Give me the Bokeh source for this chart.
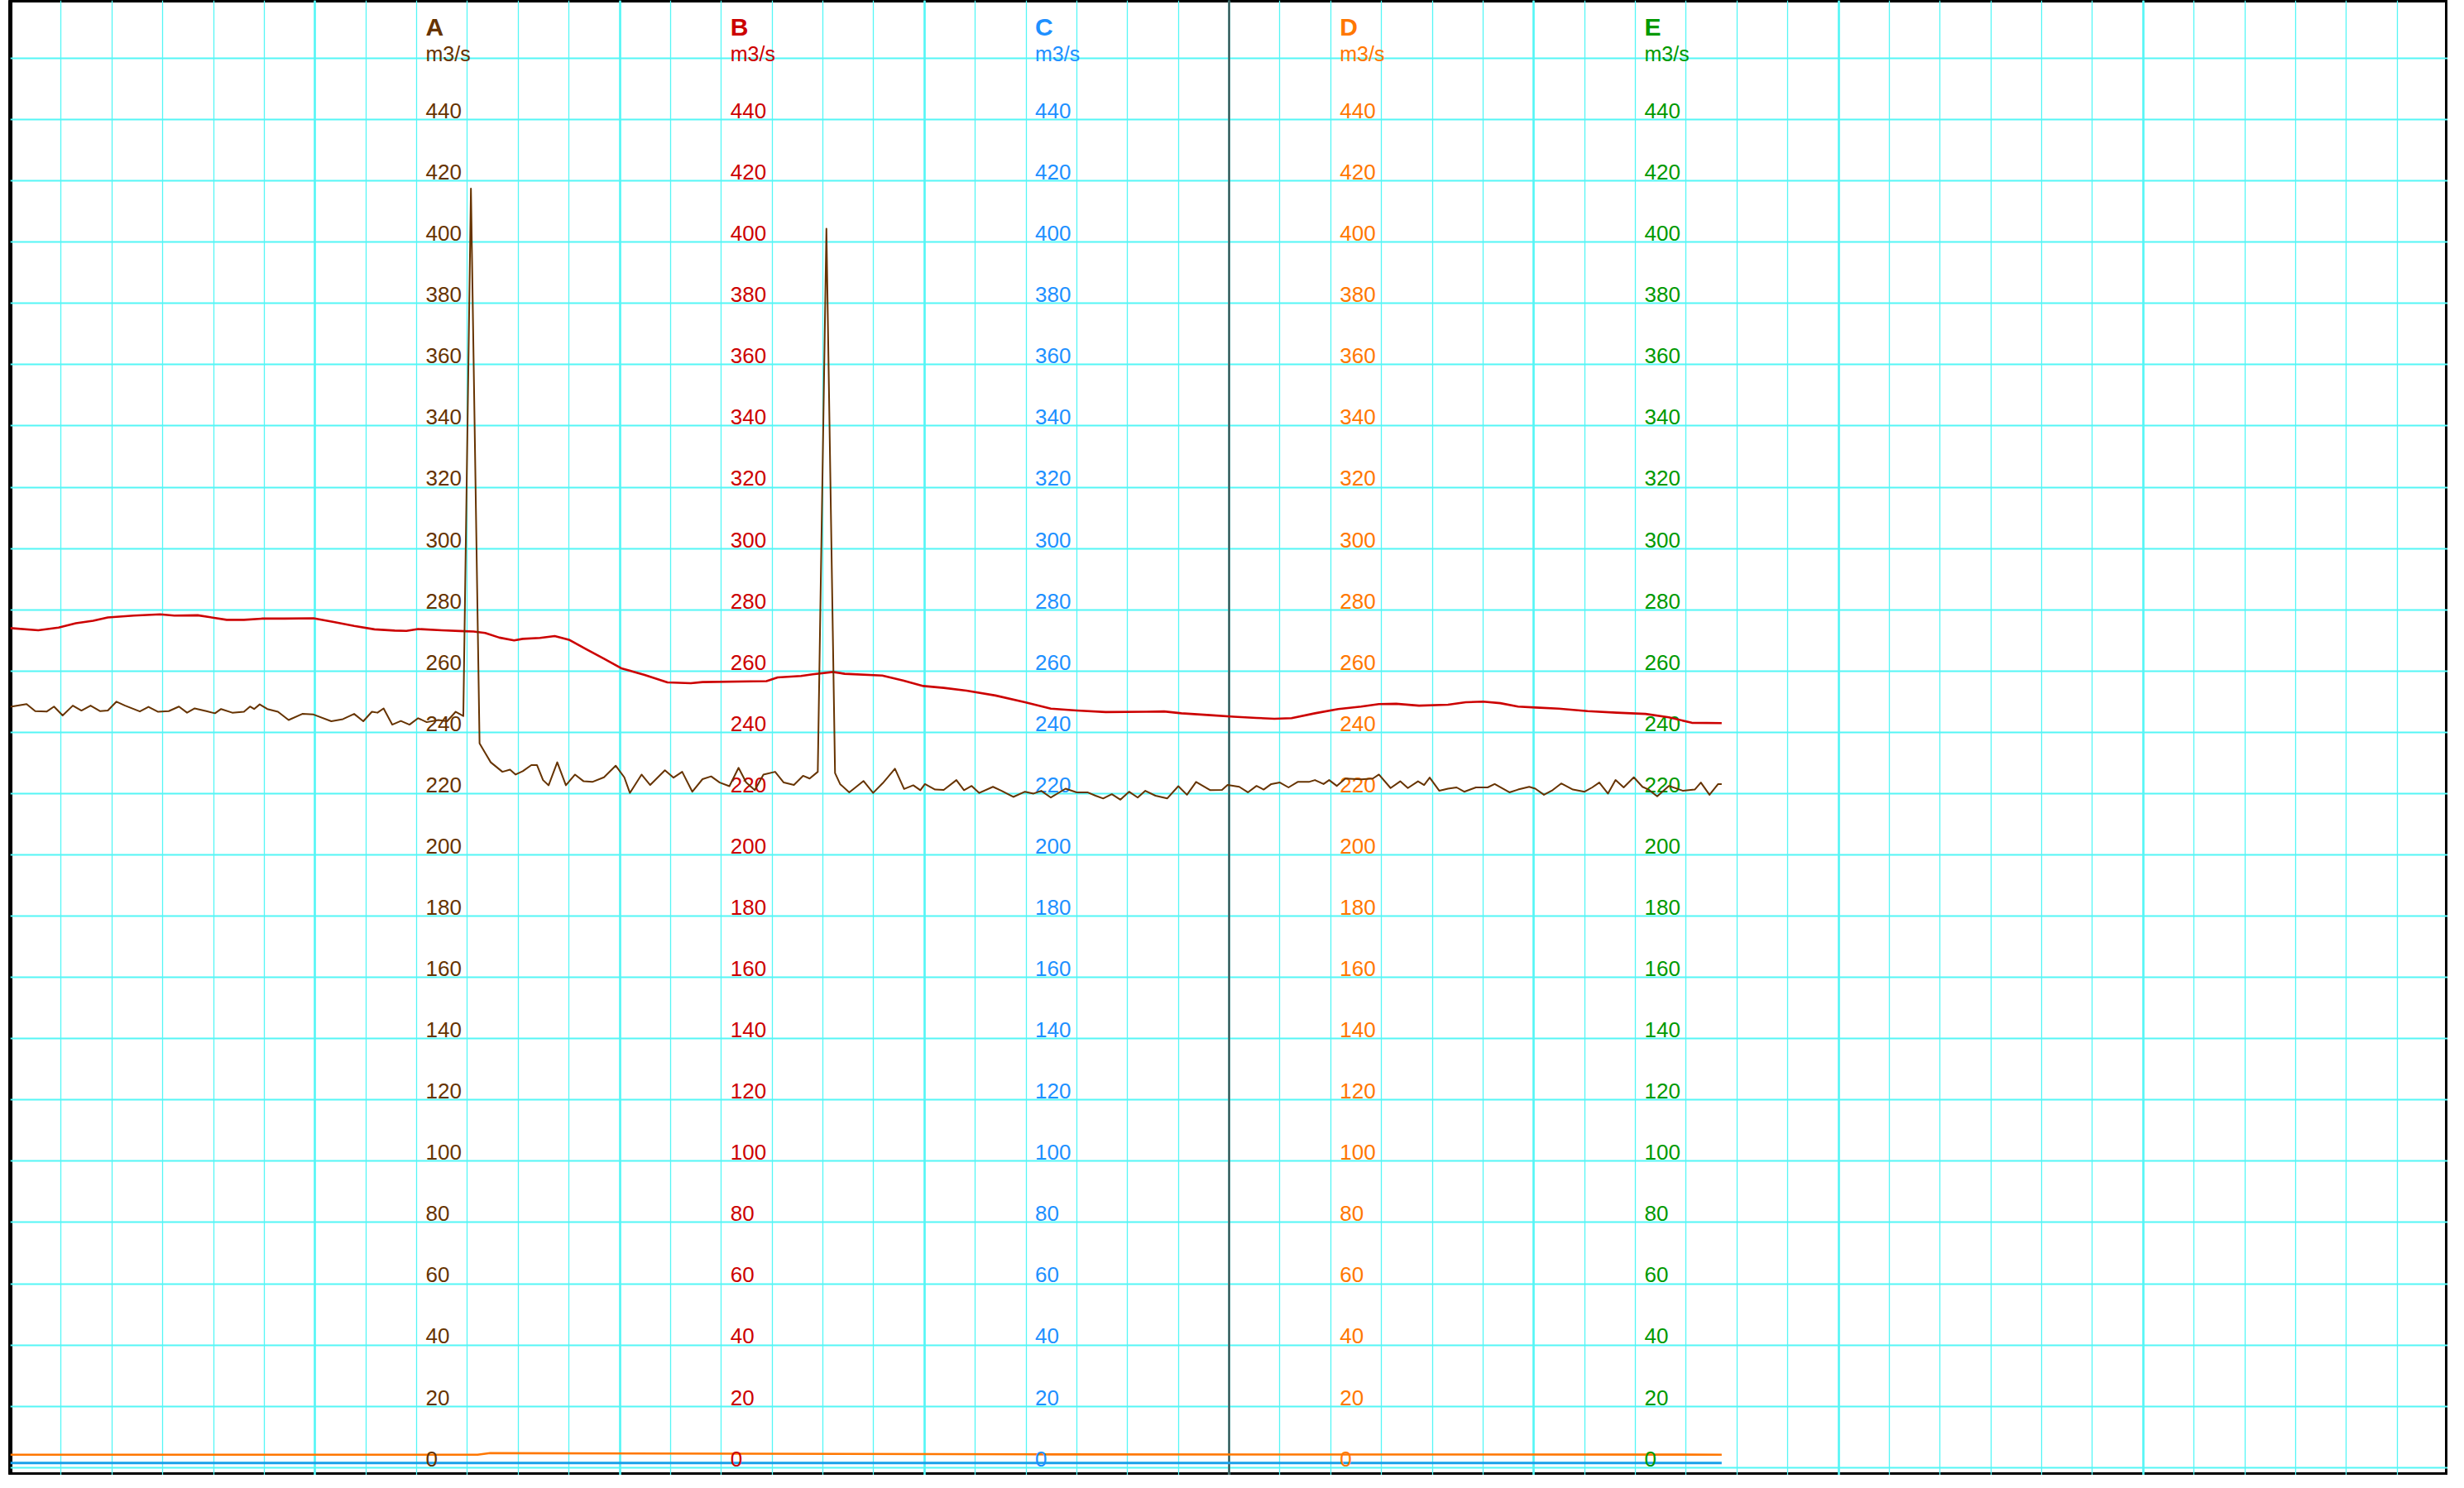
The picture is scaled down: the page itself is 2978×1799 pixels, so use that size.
from bokeh.plotting import figure
from bokeh.models import ColumnDataSource, Range1d, Grid, SingleIntervalTicker, Span
from bokeh.core.properties import value
from bokeh.embed import file_html
from bokeh.resources import INLINE

# ---------------- data ----------------
series_names = ["A", "B", "C", "D", "E"]
series_colors = ["#663300", "#CC0000", "#1E90FF", "#FF7700", "#009900"]
unit_label = "m3/s"
tick_values = list(range(0, 441, 20))

hours_A = [0.0, 0.32, 0.49, 0.72, 0.86, 1.03, 1.23, 1.40, 1.58, 1.77, 1.92, 2.09, 2.26, 2.55, 2.72,
           2.91, 3.12, 3.32, 3.48, 3.63, 3.86, 4.03, 4.15, 4.37, 4.60, 4.72, 4.80, 4.91, 5.06, 5.27,
           5.48, 5.75, 5.97, 6.32, 6.55, 6.77, 6.95, 7.12, 7.23, 7.35, 7.52, 7.69, 7.86, 8.03, 8.20,
           8.43, 8.60, 8.77, 8.92, 9.07, 9.24, 9.35, 9.46, 9.69, 9.84, 9.95, 10.09, 10.26, 10.37,
           10.49, 10.60, 10.77, 10.94, 11.12, 11.29, 11.46, 11.69, 11.92, 12.09, 12.20, 12.43, 12.60,
           12.89, 13.06, 13.23, 13.43, 13.63, 13.80, 13.97, 14.16, 14.34, 14.49, 14.66, 14.83, 15.06,
           15.23, 15.43, 15.61, 15.74, 15.90, 16.07, 16.24, 16.34, 16.52, 16.80, 16.99, 17.18, 17.42,
           17.60, 17.78, 17.92, 18.01, 18.21, 18.38, 18.63, 18.78, 18.93, 19.08, 19.35, 19.52, 19.75,
           19.98, 20.15, 20.30, 20.49, 20.78, 21.00, 21.21, 21.37, 21.52, 21.69, 21.86, 22.03, 22.20,
           22.35, 22.55, 22.78, 23.00, 23.17, 23.35, 23.63, 23.86, 23.97, 24.20, 24.37, 24.54, 24.68,
           24.83, 25.00, 25.17, 25.35, 25.57, 25.69, 25.86, 25.97, 26.12, 26.29, 26.60, 26.83, 26.95,
           27.18, 27.37, 27.52, 27.72, 27.84, 27.95, 28.14, 28.31, 28.48, 28.63, 28.86, 29.09, 29.23,
           29.52, 29.69, 29.91, 30.03, 30.20, 30.37, 30.54, 30.77, 31.00, 31.15, 31.29, 31.46, 31.61,
           31.77, 31.97, 32.14, 32.26, 32.43, 32.66, 32.94, 33.17, 33.29, 33.46, 33.63, 33.70]
flow_A = [248.3, 249.2, 246.9, 246.8, 248.4, 245.5, 248.7, 247.1, 248.7, 246.9, 247.1, 250.0, 248.7,
          246.8, 248.3, 246.7, 246.9, 248.4, 246.4, 247.8, 246.9, 246.2, 247.6, 246.4, 246.7, 248.4,
          247.6, 249.1, 247.6, 246.7, 244.0, 246.0, 245.8, 243.6, 244.3, 246.0, 243.6, 246.7, 246.4,
          247.8, 242.5, 243.7, 242.5, 244.6, 243.3, 244.0, 243.6, 246.7, 245.3, 417.5, 236.4, 233.3,
          230.2, 227.1, 227.8, 226.2, 227.3, 229.3, 229.3, 224.4, 222.7, 230.2, 222.7, 226.2, 224.0,
          223.8, 225.3, 229.1, 225.3, 220.2, 226.2, 222.8, 227.6, 225.2, 227.1, 220.6, 224.7, 225.6,
          223.6, 222.4, 228.4, 223.6, 221.1, 226.2, 227.1, 223.6, 222.8, 225.8, 224.9, 227.1, 404.4,
          226.7, 223.1, 220.4, 224.1, 220.2, 223.4, 228.1, 221.5, 222.7, 221.1, 223.1, 221.3, 221.2,
          224.4, 221.1, 222.5, 220.2, 222.2, 220.9, 218.9, 220.6, 220.0, 220.9, 218.7, 221.6, 220.4,
          220.4, 219.3, 218.4, 219.8, 218.0, 220.6, 218.7, 220.9, 219.3, 218.4, 222.4, 219.6, 223.8,
          221.1, 221.2, 222.8, 222.2, 220.4, 222.5, 221.3, 223.1, 223.6, 222.0, 223.8, 223.8, 224.4,
          223.1, 224.4, 222.5, 224.9, 224.6, 224.9, 226.2, 221.8, 224.0, 221.8, 224.0, 222.8, 225.2,
          220.9, 221.6, 222.0, 220.6, 222.0, 222.0, 223.1, 220.4, 221.3, 222.2, 221.6, 219.6, 221.1,
          223.3, 221.3, 220.6, 222.0, 223.6, 220.0, 224.4, 222.0, 225.3, 222.2, 221.3, 219.1, 222.5,
          220.9, 221.3, 223.6, 219.6, 223.1, 223.1]

hours_B = [0.0, 0.55, 0.95, 1.29, 1.63, 1.92, 2.43, 2.95, 3.23, 3.69, 4.26, 4.60, 4.95, 5.40, 5.97,
           6.37, 6.77, 7.17, 7.57, 7.80, 8.03, 8.49, 8.94, 9.12, 9.35, 9.63, 9.92, 10.09, 10.43,
           10.72, 11.00, 11.34, 11.69, 12.03, 12.49, 12.94, 13.40, 13.63, 14.89, 15.11, 15.57, 15.80,
           16.20, 16.43, 17.17, 17.58, 17.98, 18.38, 18.83, 19.40, 19.98, 20.49, 21.00, 21.57, 22.37,
           22.72, 23.06, 23.63, 24.09, 24.54, 24.89, 25.23, 25.69, 26.15, 26.60, 26.95, 27.29, 27.74,
           28.31, 28.66, 29.00, 29.34, 29.69, 30.03, 30.49, 31.06, 31.63, 32.20, 32.66, 33.11, 33.70]
flow_B = [274.0, 273.3, 274.2, 275.6, 276.4, 277.5, 278.1, 278.5, 278.1, 278.2, 276.7, 276.7, 277.1,
          277.1, 277.2, 276.0, 274.7, 273.6, 273.2, 273.1, 273.7, 273.3, 273.0, 272.9, 272.4, 270.9,
          270.0, 270.5, 270.8, 271.4, 270.2, 267.1, 264.0, 260.9, 258.7, 256.3, 256.0, 256.4, 256.7,
          257.9, 258.4, 258.9, 259.7, 259.1, 258.5, 256.9, 255.1, 254.5, 253.6, 252.0, 249.8, 247.7,
          247.1, 246.6, 246.7, 246.8, 246.2, 245.6, 245.1, 244.7, 244.4, 244.6, 246.2, 247.6, 248.4,
          249.2, 249.3, 248.7, 249.0, 249.8, 250.0, 249.5, 248.4, 248.1, 247.7, 246.9, 246.4, 246.0,
          244.9, 243.1, 243.0]

hours_C = [0.0, 33.70]
flow_C = [1.5, 1.5]

hours_D = [0.0, 9.20, 9.45, 20.0, 33.70]
flow_D = [4.2, 4.2, 4.7, 4.3, 4.2]

now_hour = 24
span_hours = 48

# ---------------- figure ----------------
fig_h = 1783
y_lo, y_hi = -2.5, 478.9
p = figure(width=2958, height=fig_h,
           x_range=Range1d(0, span_hours), y_range=Range1d(y_lo, y_hi),
           output_backend="svg", toolbar_location=None,
           x_axis_location=None, y_axis_location=None, title=None,
           min_border_left=12, min_border_right=0, min_border_top=0, min_border_bottom=0,
           background_fill_color="white", border_fill_color="white",
           outline_line_color="black", outline_line_width=5)

grid_color = "#55F6F6"
p.center = []
xg = Grid(dimension=0, ticker=SingleIntervalTicker(interval=6, num_minor_ticks=6),
          grid_line_color=grid_color, grid_line_width=2.6,
          minor_grid_line_color=grid_color, minor_grid_line_width=1.3)
yg = Grid(dimension=1, ticker=SingleIntervalTicker(interval=20, num_minor_ticks=0),
          grid_line_color=grid_color, grid_line_width=2.2)
p.add_layout(xg, "center")
p.add_layout(yg, "center")

p.add_layout(Span(location=now_hour, dimension="height", line_color="#3a3a3a",
                  line_width=2, level="underlay"))

# ---------------- low series (under the labels) ----------------
p.line(hours_C, flow_C, line_color="#1AA0EA", line_width=3)
p.line(hours_D, flow_D, line_color=series_colors[3], line_width=2.6)

# ---------------- inner axes (labels as text) ----------------
axis_first = 8.18
axis_step = 6.0
font = value("Liberation Sans")
units_per_px = (y_hi - y_lo) / fig_h
label_lift = 10.6 * units_per_px        # label sits just above its grid line
top_anchor = max(tick_values)
for i, (name, col) in enumerate(zip(series_names, series_colors)):
    ax = axis_first + i * axis_step
    src = ColumnDataSource(dict(x=[ax] * len(tick_values),
                                y=[v + label_lift for v in tick_values],
                                text=[str(v) for v in tick_values]))
    p.text(x="x", y="y", text="text", source=src, text_color=col, text_font=font,
           text_font_size="26px", text_align="left", text_baseline="middle")
    p.text(x=[ax], y=[top_anchor], text=[name], text_color=col, text_font=font,
           text_font_style="bold", text_font_size="30px", text_align="left",
           text_baseline="alphabetic", y_offset=-112)
    p.text(x=[ax], y=[top_anchor], text=[unit_label], text_color=col, text_font=font,
           text_font_size="25px", text_align="left", text_baseline="alphabetic", y_offset=-80)

# ---------------- main series ----------------
p.line(hours_B, flow_B, line_color=series_colors[1], line_width=2.6, line_join="round")
p.line(hours_A, flow_A, line_color=series_colors[0], line_width=2.0, line_join="round")

open("out.html", "w").write(file_html(p, INLINE))
